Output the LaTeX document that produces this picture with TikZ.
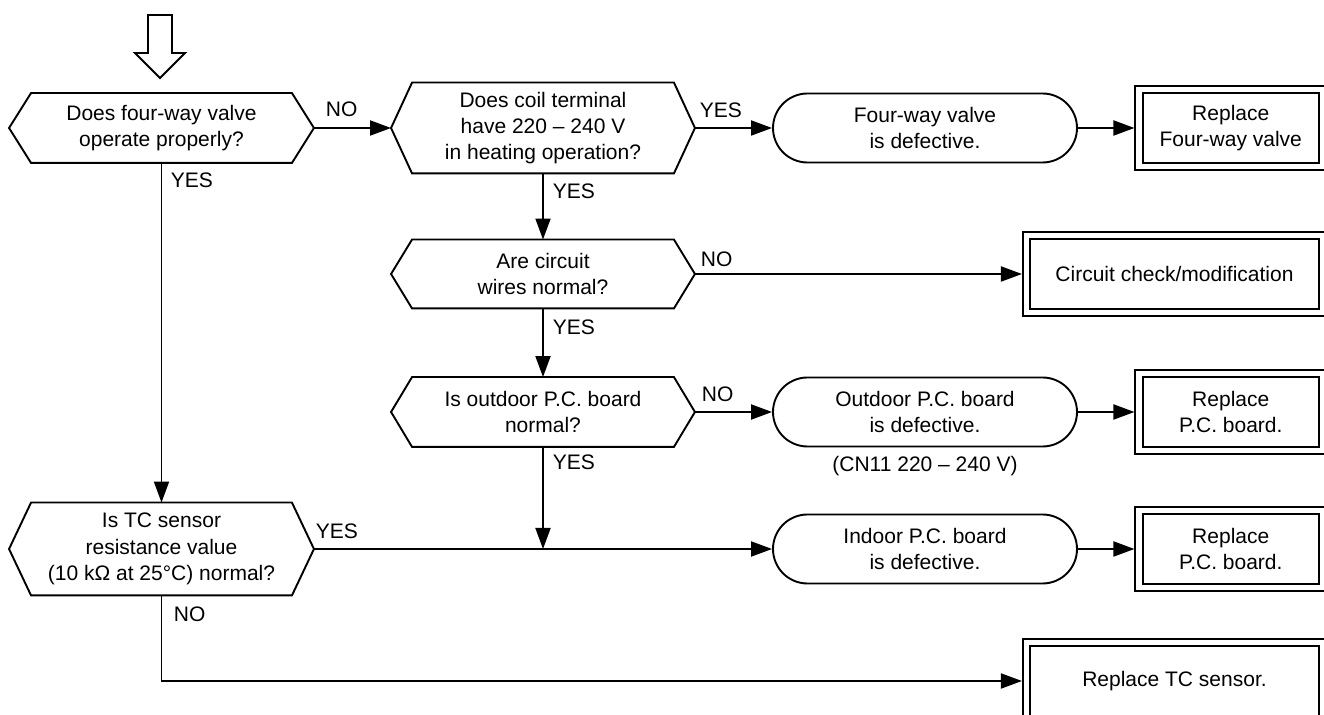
\documentclass[tikz,border=0pt]{standalone}
\usepackage{fontspec}
\setmainfont{Liberation Sans}
\usetikzlibrary{arrows.meta,shapes.misc}
\newcommand\hexdraw[2]{\draw (#1.west) -- ([xshift=#2]#1.north west) -- ([xshift=-#2]#1.north east) -- (#1.east) -- ([xshift=-#2]#1.south east) -- ([xshift=#2]#1.south west) -- cycle;}
\begin{document}
\begin{tikzpicture}[x=0.5pt,y=-0.5pt, line width=0.95pt, line join=miter,
  every node/.style={font=\fontsize{10.5}{13.2}\selectfont},
  hexnode/.style={inner sep=0pt, align=center},
  endbox/.style={rounded rectangle, draw, minimum width=152pt, minimum height=34.5pt, inner sep=0pt, align=center},
  dbox/.style={draw, double, double distance=2.7pt, inner sep=0pt, align=center, minimum height=38.25pt},
  arr/.style={-{Triangle[length=10.5pt,width=7.5pt]}},
  lbl/.style={anchor=base west, inner sep=0pt}]
\useasboundingbox (0,0) rectangle (1324,715);

% entry arrow
\draw (148,15) -- (172,15) -- (172,53) -- (185,53) -- (160,78) -- (135,53) -- (148,53) -- cycle;

% decisions
\node[hexnode, minimum width=151.5pt, minimum height=34pt] (q1) at (161.5,128) {Does four-way valve\\operate properly?};
\node[hexnode, minimum width=151pt, minimum height=44.5pt] (q2) at (543,128) {Does coil terminal\\have 220 – 240 V\\in heating operation?};
\node[hexnode, minimum width=151pt, minimum height=33.5pt] (q3) at (543,274) {Are circuit\\wires normal?};
\node[hexnode, minimum width=151pt, minimum height=34pt] (q4) at (543,412) {Is outdoor P.C. board\\normal?};
\node[hexnode, minimum width=151.5pt, minimum height=45.5pt] (q5) at (161.5,549) {Is TC sensor\\resistance value\\(10 kΩ at 25°C) normal?};
\hexdraw{q1}{11pt}
\hexdraw{q2}{10.5pt}
\hexdraw{q3}{10.5pt}
\hexdraw{q4}{10.5pt}
\hexdraw{q5}{11pt}

% results
\node[endbox] (r1) at (925,128) {Four-way valve\\is defective.};
\node[endbox] (r2) at (925,412) {Outdoor P.C. board\\is defective.};
\node[endbox] (r3) at (925,549) {Indoor P.C. board\\is defective.};
\node[anchor=base, inner sep=0pt] (cn) at (925,472) {(CN11 220 – 240 V)};

% actions
\node[dbox, minimum width=91.75pt] (b1) at (1230.75,128) {Replace\\Four-way valve};
\node[dbox, minimum width=148pt] (cc) at (1174.5,274) {Circuit check/modification};
\node[dbox, minimum width=91.75pt] (b2) at (1230.75,412) {Replace\\P.C. board.};
\node[dbox, minimum width=91.75pt] (b3) at (1230.75,549) {Replace\\P.C. board.};
\node[dbox, minimum width=148pt] (tc) at (1174.5,681) {Replace TC sensor.};

% connectors
\coordinate (j) at (543,549);
\draw[arr] (q1.east) -- (q2.west);
\draw[arr] (q2.east) -- (r1.west);
\draw[arr, shorten >=1.8pt] (r1.east) -- (b1.west);
\draw[arr] (q2.south) -- (q3.north);
\draw[arr, shorten >=1.8pt] (q3.east) -- (cc.west);
\draw[arr] (q3.south) -- (q4.north);
\draw[arr] (q4.east) -- (r2.west);
\draw[arr, shorten >=1.8pt] (r2.east) -- (b2.west);
\draw[arr] (q4.south) -- (j);
\draw[arr] (q5.east) -- (r3.west);
\draw[arr, shorten >=1.8pt] (r3.east) -- (b3.west);
\draw[arr] (q1.south) -- (q5.north);
\draw[arr, shorten >=1.8pt] (q5.south) |- (tc.west);

% labels
\node[lbl] (l1) at (325,117) {NO};
\node[lbl] (l2) at (170,188) {YES};
\node[lbl] (l3) at (699,118) {YES};
\node[lbl] (l4) at (552,199) {YES};
\node[lbl] (l5) at (700,267) {NO};
\node[lbl] (l6) at (552,335) {YES};
\node[lbl] (l7) at (701,402) {NO};
\node[lbl] (l8) at (552,470) {YES};
\node[lbl] (l9) at (315,539) {YES};
\node[lbl] (l10) at (173,622) {NO};
\end{tikzpicture}
\end{document}
